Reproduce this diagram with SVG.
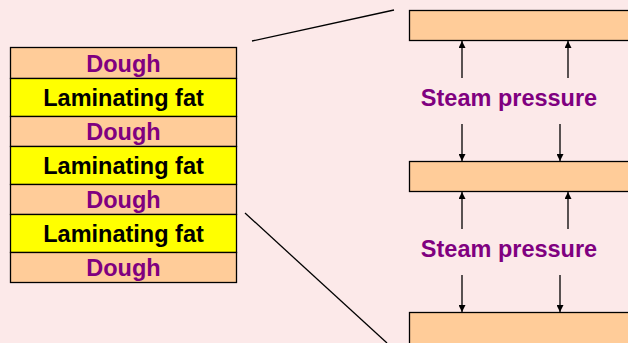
<svg xmlns="http://www.w3.org/2000/svg" width="628" height="343" viewBox="0 0 628 343">
<defs>
<marker id="ah" viewBox="0 0 10 10" refX="10" refY="5" markerWidth="7" markerHeight="7" markerUnits="userSpaceOnUse" orient="auto">
<path d="M0,0 L10,5 L0,10 z" fill="#000"/>
</marker>
<style>
.dough{fill:#FFCC99;stroke:#000;stroke-width:1.3}
.fat{fill:#FFFF00;stroke:#000;stroke-width:1.3}
.t{font-family:"Liberation Sans",Arial,sans-serif;font-weight:bold;font-size:23.5px;text-anchor:middle}
.p{fill:#800080}
.k{fill:#000}
.ln{stroke:#000;stroke-width:1.3;fill:none}
.ar{stroke:#000;stroke-width:1.3;fill:none;marker-end:url(#ah)}
</style>
</defs>
<rect width="628" height="343" fill="#FCE9E9"/>
<g id="stack">
<g id="dough1"><rect class="dough" x="10.5" y="47.5" width="226" height="31"/><text class="t p" x="123.5" y="72">Dough</text></g>
<g id="fat1"><rect class="fat" x="10.5" y="78.5" width="226" height="38"/><text class="t k" x="123.5" y="106">Laminating fat</text></g>
<g id="dough2"><rect class="dough" x="10.5" y="116.5" width="226" height="30"/><text class="t p" x="123.5" y="140">Dough</text></g>
<g id="fat2"><rect class="fat" x="10.5" y="146.5" width="226" height="38"/><text class="t k" x="123.5" y="174">Laminating fat</text></g>
<g id="dough3"><rect class="dough" x="10.5" y="184.5" width="226" height="30"/><text class="t p" x="123.5" y="208">Dough</text></g>
<g id="fat3"><rect class="fat" x="10.5" y="214.5" width="226" height="38"/><text class="t k" x="123.5" y="242">Laminating fat</text></g>
<g id="dough4"><rect class="dough" x="10.5" y="252.5" width="226" height="30"/><text class="t p" x="123.5" y="276">Dough</text></g>
</g>
<g id="layer-top"><rect class="dough" x="409.5" y="10.5" width="230" height="30"/></g>
<g id="layer-mid"><rect class="dough" x="409.5" y="161.5" width="230" height="30"/></g>
<g id="layer-bot"><rect class="dough" x="409.5" y="312.5" width="230" height="40"/></g>
<g id="label1"><text class="t p" x="509" y="106">Steam pressure</text></g>
<g id="label2"><text class="t p" x="509" y="257">Steam pressure</text></g>
<g id="connectors">
<line class="ln" x1="252" y1="41" x2="394" y2="10"/>
<line class="ln" x1="245" y1="213" x2="387" y2="343"/>
<line class="ar" x1="462" y1="78" x2="462" y2="41"/>
<line class="ar" x1="568" y1="78" x2="568" y2="41"/>
<line class="ar" x1="462" y1="124" x2="462" y2="161"/>
<line class="ar" x1="560" y1="124" x2="560" y2="161"/>
<line class="ar" x1="462" y1="229" x2="462" y2="192"/>
<line class="ar" x1="568" y1="229" x2="568" y2="192"/>
<line class="ar" x1="462" y1="275" x2="462" y2="312"/>
<line class="ar" x1="560" y1="275" x2="560" y2="312"/>
</g>
</svg>
